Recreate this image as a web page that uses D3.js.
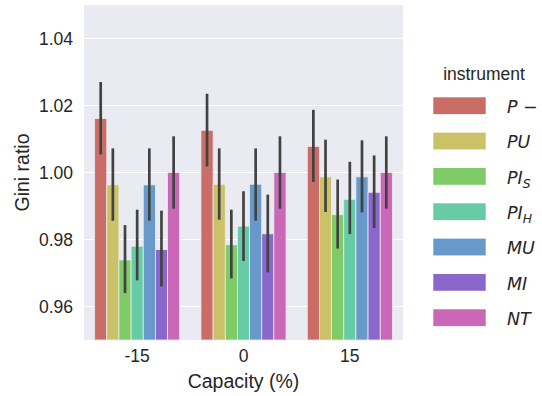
<!DOCTYPE html>
<html>
<head>
<meta charset="utf-8">
<script src="https://cdn.jsdelivr.net/npm/d3@7"></script>
<style>
  html, body { margin: 0; padding: 0; background: #fff; }
  svg { display: block; }
</style>
</head>
<body>
<svg id="chart" width="542" height="396"></svg>
<script>
// ---- data ----
const categories = ["-15", "0", "15"];
const instruments = ["P−", "PU", "PI_S", "PI_H", "MU", "MI", "NT"];
const instrumentLabels = [
  {base: "P −", sub: ""},
  {base: "PU", sub: ""},
  {base: "PI", sub: "S"},
  {base: "PI", sub: "H"},
  {base: "MU", sub: ""},
  {base: "MI", sub: ""},
  {base: "NT", sub: ""}
];
// mean values per category (rows) and instrument (columns)
const meanValues = [
  [1.0161, 0.9963, 0.9739, 0.9780, 0.9963, 0.9770, 1.0000],
  [1.0126, 0.9965, 0.9784, 0.9840, 0.9965, 0.9817, 1.0000],
  [1.0078, 0.9987, 0.9874, 0.9920, 0.9987, 0.9941, 1.0000]
];
const ciLow = [
  [1.0054, 0.9856, 0.9640, 0.9678, 0.9856, 0.9660, 0.9892],
  [1.0018, 0.9859, 0.9684, 0.9736, 0.9856, 0.9702, 0.9892],
  [0.9972, 0.9882, 0.9773, 0.9816, 0.9881, 0.9834, 0.9892]
];
const ciHigh = [
  [1.0270, 1.0072, 0.9843, 0.9889, 1.0072, 0.9886, 1.0108],
  [1.0235, 1.0072, 0.9889, 0.9944, 1.0072, 0.9934, 1.0108],
  [1.0187, 1.0098, 0.9979, 1.0032, 1.0096, 1.0051, 1.0108]
];
const yTicks = [0.96, 0.98, 1.00, 1.02, 1.04];
const yDomain = [0.95, 1.05];
const xTitle = "Capacity (%)";
const yTitle = "Gini ratio";
const legendTitle = "instrument";

// ---- layout ----
const svg = d3.select("#chart");
const plot = {left: 84, right: 403, top: 5, bottom: 340};
const tickFont = "'Liberation Sans', Arial, sans-serif";

// seaborn hls palette (l=.6, s=.65) desaturated by .75
const colors = instruments.map((d, i) => d3.hsl(((0.01 + i / instruments.length) % 1) * 360, 0.65 * 0.75, 0.6).formatHex());

const x = d3.scaleBand().domain(categories).range([plot.left, plot.right]).padding(0);
const xInner = d3.scaleBand().domain(instruments)
  .range([x.bandwidth() * 0.1, x.bandwidth() * 0.9]).padding(0);
const y = d3.scaleLinear().domain(yDomain).range([plot.bottom, plot.top]);

// background
svg.append("rect")
  .attr("x", plot.left).attr("y", plot.top)
  .attr("width", plot.right - plot.left).attr("height", plot.bottom - plot.top)
  .attr("fill", "#EAEAF2");

// grid
svg.append("g").selectAll("line").data(yTicks).join("line")
  .attr("x1", plot.left).attr("x2", plot.right)
  .attr("y1", d => y(d)).attr("y2", d => y(d))
  .attr("stroke", "#fff").attr("stroke-width", 1.1);

// bars
const groups = svg.append("g").selectAll("g").data(categories).join("g")
  .attr("transform", d => `translate(${x(d)},0)`);

groups.each(function(cat, ci) {
  const g = d3.select(this);
  const rows = instruments.map((inst, ii) => ({
    inst, ii, v: meanValues[ci][ii], lo: ciLow[ci][ii], hi: ciHigh[ci][ii]
  }));
  g.selectAll("rect").data(rows).join("rect")
    .attr("x", d => xInner(d.inst))
    .attr("width", xInner.bandwidth())
    .attr("y", d => y(d.v))
    .attr("height", d => plot.bottom - y(d.v))
    .attr("fill", d => colors[d.ii])
    .attr("stroke", "#EAEAF2").attr("stroke-width", 0.8);
  g.selectAll("line.err").data(rows).join("line")
    .attr("class", "err")
    .attr("x1", d => xInner(d.inst) + xInner.bandwidth() / 2)
    .attr("x2", d => xInner(d.inst) + xInner.bandwidth() / 2)
    .attr("y1", d => y(d.lo)).attr("y2", d => y(d.hi))
    .attr("stroke", "#424242").attr("stroke-width", 2.7);
});

// y axis
const yAxis = d3.axisLeft(y).tickValues(yTicks).tickSize(0).tickPadding(11)
  .tickFormat(d3.format(".2f"));
const yg = svg.append("g").attr("transform", `translate(${plot.left},0)`).call(yAxis);
yg.select(".domain").remove();
yg.selectAll("text").attr("font-family", tickFont).attr("font-size", 17.5).attr("fill", "#262626");

// x axis
const xAxis = d3.axisBottom(x).tickSize(0).tickPadding(10);
const xg = svg.append("g").attr("transform", `translate(0,${plot.bottom})`).call(xAxis);
xg.select(".domain").remove();
xg.selectAll("text").attr("font-family", tickFont).attr("font-size", 17.5).attr("fill", "#262626");

// axis titles
svg.append("text")
  .attr("x", (plot.left + plot.right) / 2).attr("y", 388)
  .attr("text-anchor", "middle")
  .attr("font-family", tickFont).attr("font-size", 19.5).attr("fill", "#262626")
  .text(xTitle);
svg.append("text")
  .attr("transform", `translate(29,${(plot.top + plot.bottom) / 2}) rotate(-90)`)
  .attr("text-anchor", "middle")
  .attr("font-family", tickFont).attr("font-size", 19.5).attr("fill", "#262626")
  .text(yTitle);

// legend
const legend = svg.append("g");
legend.append("text")
  .attr("x", 484).attr("y", 80)
  .attr("text-anchor", "middle")
  .attr("font-family", tickFont).attr("font-size", 17.5).attr("fill", "#262626")
  .text(legendTitle);
const legendY = d3.scalePoint().domain(instruments).range([105.7, 317.7]);
const items = legend.selectAll("g.item").data(instruments).join("g")
  .attr("class", "item")
  .attr("transform", d => `translate(0,${legendY(d)})`);
items.append("rect")
  .attr("x", 433.3).attr("y", -8.4).attr("width", 52.4).attr("height", 16.8)
  .attr("fill", (d, i) => colors[i]);
const labels = items.append("text")
  .attr("x", 507).attr("y", 7.3)
  .attr("font-family", "'DejaVu Sans', sans-serif").attr("font-style", "italic")
  .attr("font-size", 17.5).attr("fill", "#262626");
labels.each(function(d, i) {
  const t = d3.select(this);
  const lab = instrumentLabels[i];
  t.append("tspan").text(lab.base);
  if (lab.sub) {
    t.append("tspan").attr("dy", 4).attr("font-size", 12.3).text(lab.sub);
  }
});
</script>
</body>
</html>
